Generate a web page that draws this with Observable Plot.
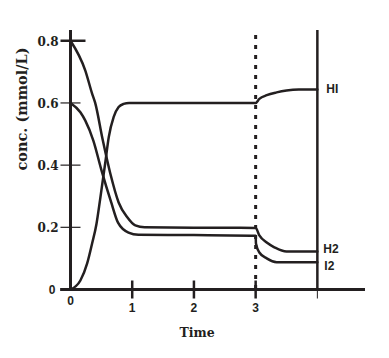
<!DOCTYPE html>
<html>
<head>
<meta charset="utf-8">
<script src="https://cdn.jsdelivr.net/npm/d3@7"></script>
<script src="https://cdn.jsdelivr.net/npm/@observablehq/plot@0.6"></script>
<style>
  html, body { margin: 0; padding: 0; background: #fff; }
  #chart svg { display: block; }
</style>
</head>
<body>
<div id="chart"></div>
<script>
// ---- data ----
const seriesNames = ["HI", "H2", "I2"];
const timeHI = [0, 0.16, 0.27, 0.35, 0.42, 0.48, 0.565, 0.62, 0.70, 0.78, 0.86, 0.95, 2.0, 3.0, 3.06, 3.18, 3.34, 3.5, 3.7, 4.0];
const concHI = [0, 0.029, 0.084, 0.148, 0.21, 0.29, 0.41, 0.49, 0.555, 0.587, 0.597, 0.6, 0.6, 0.6, 0.613, 0.625, 0.634, 0.64, 0.643, 0.643];
const timeH2 = [0, 0.24, 0.35, 0.40, 0.52, 0.645, 0.78, 0.92, 1.05, 1.2, 2.0, 3.0, 3.06, 3.18, 3.31, 3.5, 4.0];
const concH2 = [0.8, 0.704, 0.63, 0.6, 0.483, 0.373, 0.28, 0.232, 0.206, 0.2, 0.199, 0.198, 0.174, 0.151, 0.135, 0.122, 0.122];
const timeI2 = [0, 0.16, 0.24, 0.37, 0.5, 0.66, 0.77, 0.94, 1.1, 2.0, 3.0, 3.005, 3.06, 3.18, 3.34, 4.0];
const concI2 = [0.6, 0.57, 0.543, 0.479, 0.385, 0.28, 0.215, 0.183, 0.176, 0.175, 0.173, 0.148, 0.119, 0.1, 0.088, 0.088];
const xTickValues = [1, 2, 3];
const xTickLabels = ["1", "2", "3"];
const yTickValues = [0.2, 0.4, 0.6];
const yTopTick = [0.8];
const yTickLabelValues = [0.8, 0.6, 0.4, 0.2];
const yTickLabels = ["0.8", "0.6", "0.4", "0.2"];
const perturbTime = [3];
const endTime = [4];
const xTitle = "Time";
const yTitle = "conc. (mmol/L)";

// ---- build table ----
const rows = [];
[[timeHI, concHI, "HI"], [timeH2, concH2, "H2"], [timeI2, concI2, "I2"]].forEach(([ts, cs, name]) => {
  ts.forEach((t, i) => rows.push({ time: t, conc: cs[i], series: name }));
});
const lastOf = name => rows.filter(r => r.series === name).slice(-1);

const ink = "#231f20";
const serif = "DejaVu Serif";
const sans = "Liberation Sans";

// custom tick symbols (pixel-sized line segments)
const vTick = (a, b) => ({ draw(ctx) { ctx.moveTo(0, a); ctx.lineTo(0, b); } });
const hTick = (a, b) => ({ draw(ctx) { ctx.moveTo(a, 0); ctx.lineTo(b, 0); } });

const xDomain = [0, 4.78];
const yDomain = [0, 0.833];

const chart = Plot.plot({
  width: 389,
  height: 358,
  marginLeft: 70,
  marginRight: 24,
  marginTop: 30,
  marginBottom: 69,
  x: { domain: xDomain, axis: null },
  y: { domain: yDomain, axis: null },
  style: { background: "#fff", color: ink },
  marks: [
    // dashed perturbation line
    Plot.ruleX(perturbTime, { stroke: ink, strokeWidth: 3, strokeDasharray: "4,6", y1: yDomain[0], y2: yDomain[1] }),
    // right vertical line
    Plot.ruleX(endTime, { stroke: ink, strokeWidth: 2.5, y1: yDomain[0], y2: yDomain[1] }),
    Plot.dot(endTime, { x: d => d, y: () => 0, symbol: vTick(0, 9), stroke: ink, strokeWidth: 1, fill: "none" }),
    // y axis
    Plot.ruleX([0], { stroke: ink, strokeWidth: 3, y1: yDomain[0], y2: yDomain[1] }),
    // x axis
    Plot.ruleY([0], { stroke: ink, strokeWidth: 3, x1: xDomain[0] - 0.16, x2: xDomain[1] }),
    // x ticks
    Plot.dot(xTickValues, { x: d => d, y: () => 0, symbol: vTick(-9, 9), stroke: ink, strokeWidth: 2.5, fill: "none" }),
    // y ticks
    Plot.dot(yTickValues, { x: () => 0, y: d => d, symbol: hTick(-10, 10), stroke: ink, strokeWidth: 1.2, fill: "none" }),
    Plot.dot(yTopTick, { x: () => 0, y: d => d, symbol: hTick(-10, 15), stroke: ink, strokeWidth: 2.5, fill: "none" }),
    // curves
    Plot.line(rows, { x: "time", y: "conc", z: "series", curve: "monotone-x", stroke: ink, strokeWidth: 2.5 }),
    // y tick labels
    Plot.text(yTickLabelValues, { x: () => 0, y: d => d, text: (d, i) => yTickLabels[i], textAnchor: "end", dx: -12, dy: 1, fontFamily: serif, fontWeight: "bold", fontSize: 12, fill: ink }),
    Plot.text([0], { x: () => 0, y: () => 0, text: () => "0", textAnchor: "end", dx: -15, dy: 1, fontFamily: sans, fontWeight: "bold", fontSize: 12, fill: ink }),
    // x tick labels
    Plot.text([0], { x: d => d, y: () => 0, text: () => "0", dy: 12, fontFamily: sans, fontWeight: "bold", fontSize: 12, fill: ink }),
    Plot.text(xTickValues, { x: d => d, y: () => 0, text: (d, i) => xTickLabels[i], dy: 19, fontFamily: sans, fontWeight: "bold", fontSize: 12, fill: ink }),
    // series labels
    Plot.text(lastOf("HI"), { x: "time", y: "conc", text: "series", textAnchor: "start", dx: 9, dy: 0, fontFamily: sans, fontWeight: "bold", fontSize: 12, fill: ink }),
    Plot.text(lastOf("H2"), { x: "time", y: "conc", text: "series", textAnchor: "start", dx: 6, dy: -2, fontFamily: sans, fontWeight: "bold", fontSize: 12, fill: ink }),
    Plot.text(lastOf("I2"), { x: "time", y: "conc", text: "series", textAnchor: "start", dx: 7, dy: 4, fontFamily: sans, fontWeight: "bold", fontSize: 12, fill: ink }),
    // axis titles
    Plot.text([xTitle], { frameAnchor: "bottom", text: d => d, dx: -21, dy: 47, fontFamily: serif, fontWeight: "bold", fontSize: 12.5, fill: ink }),
    Plot.text([yTitle], { frameAnchor: "left", textAnchor: "middle", text: d => d, rotate: -90, dx: -48.5, dy: -51, fontFamily: serif, fontWeight: "bold", fontSize: 14.5, fill: ink })
  ]
});
document.getElementById("chart").appendChild(chart);
</script>
</body>
</html>
